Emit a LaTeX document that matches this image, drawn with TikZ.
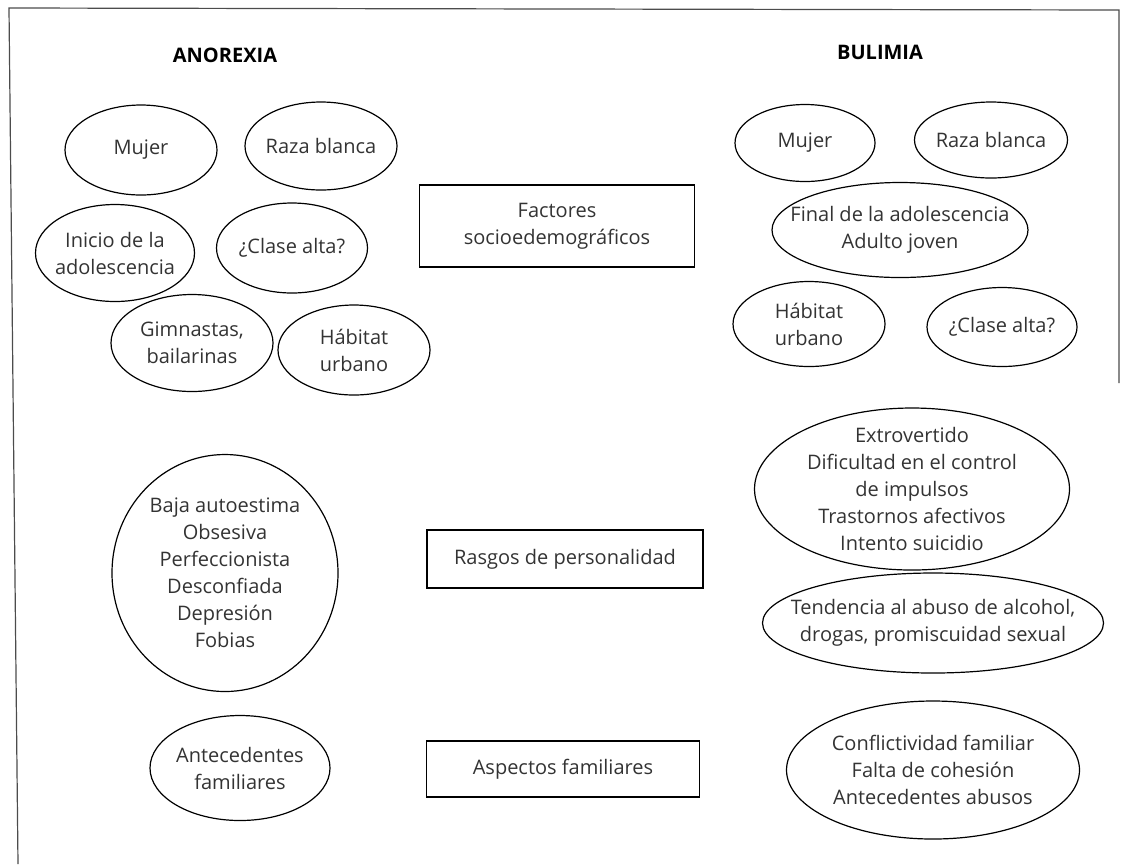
\documentclass[tikz,border=0pt]{standalone}
\usepackage{fontspec}
\setmainfont{Open Sans}
\usetikzlibrary{shapes.geometric}

\tikzset{sz/.style 2 args={minimum width=#1*0.5pt, minimum height=#2*0.5pt}}

\begin{document}
\begin{tikzpicture}[x=0.5pt, y=-0.5pt,
  every node/.style={font=\fontsize{10}{13.5}\selectfont, text=black!80, align=center, inner sep=0pt},
  elip/.style={draw, ellipse, line width=0.6pt, label={center:#1}},
  caja/.style={draw, rectangle, line width=0.6pt},
  titulo/.style={font=\fontsize{10}{12}\selectfont\bfseries, text=black}]
  \useasboundingbox (0,0) rectangle (1122,864);
  \draw[line width=0.6pt, black!70] (1119,383) -- (1119,10) -- (9,8) -- (18,864);

  \node[titulo] (ano) at (225,55) {ANOREXIA};
  \node[titulo] (bul) at (880,52) {BULIMIA};

  \node[elip={Mujer}, sz={152}{90}] (a-mujer) at (141,150) {};
  \node[elip={Raza blanca}, sz={152}{88}] (a-raza) at (321,146) {};
  \node[elip={Inicio de la\\adolescencia}, sz={159}{97}] (a-inicio) at (115,253) {};
  \node[elip={¿Clase alta?}, sz={151}{90}] (a-clase) at (292,248) {};
  \node[elip={Gimnastas,\\bailarinas}, sz={162}{97}] (a-gimn) at (192,343) {};
  \node[elip={Hábitat\\urbano}, sz={152}{90}] (a-habitat) at (354,350) {};
  \node[elip={Baja autoestima\\Obsesiva\\Perfeccionista\\Desconfiada\\Depresión\\Fobias}, sz={226}{237}] (a-rasgos) at (225,573) {};
  \node[elip={Antecedentes\\familiares}, sz={180}{105}] (a-fam) at (240,768) {};

  \node[caja, sz={275}{82}] (factores) at (557,226) {Factores\\socioedemográficos};
  \node[caja, sz={276}{58}] (rasgos) at (565,559) {Rasgos de personalidad};
  \node[caja, sz={273}{56}] (familia) at (563,769) {Aspectos familiares};

  \node[elip={Mujer}, sz={140}{77}] (b-mujer) at (805,143) {};
  \node[elip={Raza blanca}, sz={153}{76}] (b-raza) at (991,140) {};
  \node[elip={Final de la adolescencia\\Adulto joven}, sz={256}{95}] (b-final) at (900,230) {};
  \node[elip={Hábitat\\urbano}, sz={152}{85}] (b-habitat) at (809,324) {};
  \node[elip={¿Clase alta?}, sz={150}{79}] (b-clase) at (1002,327) {};
  \node[elip={Extrovertido\\Dificultad en el control\\de impulsos\\Trastornos afectivos\\Intento suicidio}, sz={315}{162}] (b-rasgos) at (912,489) {};
  \node[elip={Tendencia al abuso de alcohol,\\drogas, promiscuidad sexual}, sz={341}{100}] (b-abuso) at (933,623) {};
  \node[elip={Conflictividad familiar\\Falta de cohesión\\Antecedentes abusos}, sz={293}{138}] (b-fam) at (933,770) {};
\end{tikzpicture}
\end{document}
